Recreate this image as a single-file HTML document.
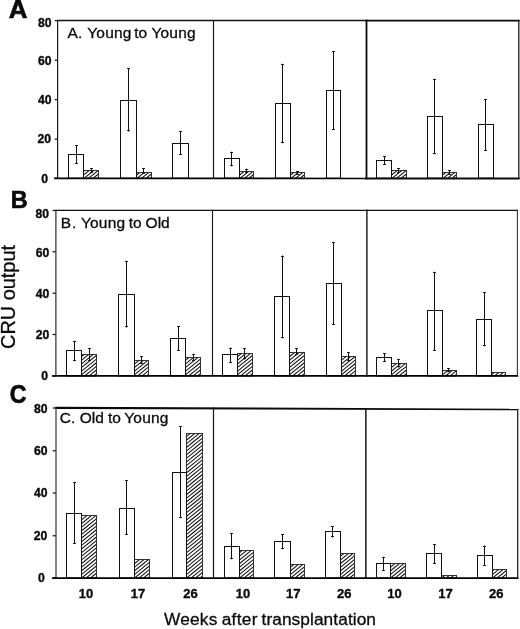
<!DOCTYPE html>
<html lang="en"><head><meta charset="utf-8"><title>CRU output</title>
<style>
html,body{margin:0;padding:0;background:#fff;}
body{width:520px;height:629px;overflow:hidden;}
svg{display:block;font-family:"Liberation Sans",Arial,Helvetica,sans-serif;fill:#0a0a0a;}
text{stroke:#0a0a0a;stroke-linejoin:round;}
.tk{font-size:12.2px;font-weight:bold;stroke-width:0.35px;}
.xl{font-size:13px;font-weight:bold;stroke-width:0.35px;}
.lt{font-size:24.6px;font-weight:bold;stroke-width:0.7px;}
.tt{font-size:15.5px;stroke-width:0.3px;}
.ax{font-size:17.3px;stroke-width:0.3px;}
.ay{font-size:19.9px;stroke-width:0.3px;}
</style></head><body>
<svg width="520" height="629" viewBox="0 0 520 629">
<rect width="520" height="629" fill="#fff"/>
<g>
<clipPath id="c1"><rect x="83.50" y="170.50" width="15.00" height="7.70"/></clipPath><rect x="83.50" y="170.50" width="15.00" height="7.70" fill="#fff"/><path clip-path="url(#c1)" d="M82.50 165.06L99.50 151.29M82.50 168.69L99.50 154.92M82.50 172.32L99.50 158.55M82.50 175.95L99.50 162.18M82.50 179.58L99.50 165.81M82.50 183.21L99.50 169.44M82.50 186.84L99.50 173.07M82.50 190.47L99.50 176.70M82.50 194.10L99.50 180.33M82.50 197.73L99.50 183.96" stroke="#111" stroke-width="1.05" fill="none"/><rect x="83.50" y="170.50" width="15.00" height="7.70" fill="none" stroke="#222" stroke-width="0.9"/>
<path d="M91.50 168.50V172.50" stroke="#111" stroke-width="1.0" fill="none"/><path d="M90.10 168.50h2.8M90.10 172.50h2.8" stroke="#111" stroke-width="1.15" fill="none"/>
<rect x="68.50" y="154.50" width="15.00" height="23.70" fill="#fff" stroke="#111" stroke-width="1.0"/>
<path d="M76.50 145.40V163.75" stroke="#111" stroke-width="1.0" fill="none"/><path d="M75.10 145.50h2.8M75.10 163.50h2.8" stroke="#111" stroke-width="1.15" fill="none"/>
<clipPath id="c2"><rect x="136.50" y="172.50" width="15.00" height="5.70"/></clipPath><rect x="136.50" y="172.50" width="15.00" height="5.70" fill="#fff"/><path clip-path="url(#c2)" d="M135.50 168.69L152.50 154.92M135.50 172.32L152.50 158.55M135.50 175.95L152.50 162.18M135.50 179.58L152.50 165.81M135.50 183.21L152.50 169.44M135.50 186.84L152.50 173.07M135.50 190.47L152.50 176.70M135.50 194.10L152.50 180.33M135.50 197.73L152.50 183.96" stroke="#111" stroke-width="1.05" fill="none"/><rect x="136.50" y="172.50" width="15.00" height="5.70" fill="none" stroke="#222" stroke-width="0.9"/>
<path d="M143.50 168.00V174.00" stroke="#111" stroke-width="1.0" fill="none"/><path d="M142.10 168.50h2.8M142.10 173.50h2.8" stroke="#111" stroke-width="1.15" fill="none"/>
<rect x="120.50" y="100.50" width="16.00" height="77.70" fill="#fff" stroke="#111" stroke-width="1.0"/>
<path d="M128.50 68.25V131.50" stroke="#111" stroke-width="1.0" fill="none"/><path d="M127.10 68.50h2.8M127.10 130.50h2.8" stroke="#111" stroke-width="1.15" fill="none"/>
<rect x="172.50" y="143.50" width="16.00" height="34.70" fill="#fff" stroke="#111" stroke-width="1.0"/>
<path d="M180.50 131.00V154.50" stroke="#111" stroke-width="1.0" fill="none"/><path d="M179.10 131.50h2.8M179.10 154.50h2.8" stroke="#111" stroke-width="1.15" fill="none"/>
<clipPath id="c3"><rect x="239.50" y="171.50" width="14.00" height="6.70"/></clipPath><rect x="239.50" y="171.50" width="14.00" height="6.70" fill="#fff"/><path clip-path="url(#c3)" d="M238.50 168.69L254.50 155.73M238.50 172.32L254.50 159.36M238.50 175.95L254.50 162.99M238.50 179.58L254.50 166.62M238.50 183.21L254.50 170.25M238.50 186.84L254.50 173.88M238.50 190.47L254.50 177.51M238.50 194.10L254.50 181.14M238.50 197.73L254.50 184.77" stroke="#111" stroke-width="1.05" fill="none"/><rect x="239.50" y="171.50" width="14.00" height="6.70" fill="none" stroke="#222" stroke-width="0.9"/>
<path d="M246.50 168.75V173.00" stroke="#111" stroke-width="1.0" fill="none"/><path d="M245.10 169.50h2.8M245.10 172.50h2.8" stroke="#111" stroke-width="1.15" fill="none"/>
<rect x="224.50" y="158.50" width="15.00" height="19.70" fill="#fff" stroke="#111" stroke-width="1.0"/>
<path d="M231.50 151.75V166.25" stroke="#111" stroke-width="1.0" fill="none"/><path d="M230.10 152.50h2.8M230.10 165.50h2.8" stroke="#111" stroke-width="1.15" fill="none"/>
<clipPath id="c4"><rect x="290.50" y="172.50" width="14.00" height="5.70"/></clipPath><rect x="290.50" y="172.50" width="14.00" height="5.70" fill="#fff"/><path clip-path="url(#c4)" d="M289.50 168.69L305.50 155.73M289.50 172.32L305.50 159.36M289.50 175.95L305.50 162.99M289.50 179.58L305.50 166.62M289.50 183.21L305.50 170.25M289.50 186.84L305.50 173.88M289.50 190.47L305.50 177.51M289.50 194.10L305.50 181.14M289.50 197.73L305.50 184.77" stroke="#111" stroke-width="1.05" fill="none"/><rect x="290.50" y="172.50" width="14.00" height="5.70" fill="none" stroke="#222" stroke-width="0.9"/>
<path d="M297.50 171.00V175.00" stroke="#111" stroke-width="1.0" fill="none"/><path d="M296.10 171.50h2.8M296.10 174.50h2.8" stroke="#111" stroke-width="1.15" fill="none"/>
<rect x="275.50" y="103.50" width="15.00" height="74.70" fill="#fff" stroke="#111" stroke-width="1.0"/>
<path d="M282.50 63.75V143.25" stroke="#111" stroke-width="1.0" fill="none"/><path d="M281.10 64.50h2.8M281.10 142.50h2.8" stroke="#111" stroke-width="1.15" fill="none"/>
<rect x="326.50" y="90.50" width="14.00" height="87.70" fill="#fff" stroke="#111" stroke-width="1.0"/>
<path d="M333.50 51.00V130.00" stroke="#111" stroke-width="1.0" fill="none"/><path d="M332.10 51.50h2.8M332.10 129.50h2.8" stroke="#111" stroke-width="1.15" fill="none"/>
<clipPath id="c5"><rect x="391.50" y="170.50" width="15.00" height="7.70"/></clipPath><rect x="391.50" y="170.50" width="15.00" height="7.70" fill="#fff"/><path clip-path="url(#c5)" d="M390.50 165.06L407.50 151.29M390.50 168.69L407.50 154.92M390.50 172.32L407.50 158.55M390.50 175.95L407.50 162.18M390.50 179.58L407.50 165.81M390.50 183.21L407.50 169.44M390.50 186.84L407.50 173.07M390.50 190.47L407.50 176.70M390.50 194.10L407.50 180.33M390.50 197.73L407.50 183.96" stroke="#111" stroke-width="1.05" fill="none"/><rect x="391.50" y="170.50" width="15.00" height="7.70" fill="none" stroke="#222" stroke-width="0.9"/>
<path d="M398.50 168.25V172.50" stroke="#111" stroke-width="1.0" fill="none"/><path d="M397.10 168.50h2.8M397.10 172.50h2.8" stroke="#111" stroke-width="1.15" fill="none"/>
<rect x="376.50" y="160.50" width="15.00" height="17.70" fill="#fff" stroke="#111" stroke-width="1.0"/>
<path d="M384.50 156.25V165.00" stroke="#111" stroke-width="1.0" fill="none"/><path d="M383.10 156.50h2.8M383.10 164.50h2.8" stroke="#111" stroke-width="1.15" fill="none"/>
<clipPath id="c6"><rect x="442.50" y="172.50" width="14.00" height="5.70"/></clipPath><rect x="442.50" y="172.50" width="14.00" height="5.70" fill="#fff"/><path clip-path="url(#c6)" d="M441.50 168.69L457.50 155.73M441.50 172.32L457.50 159.36M441.50 175.95L457.50 162.99M441.50 179.58L457.50 166.62M441.50 183.21L457.50 170.25M441.50 186.84L457.50 173.88M441.50 190.47L457.50 177.51M441.50 194.10L457.50 181.14M441.50 197.73L457.50 184.77" stroke="#111" stroke-width="1.05" fill="none"/><rect x="442.50" y="172.50" width="14.00" height="5.70" fill="none" stroke="#222" stroke-width="0.9"/>
<path d="M449.50 170.50V174.50" stroke="#111" stroke-width="1.0" fill="none"/><path d="M448.10 170.50h2.8M448.10 174.50h2.8" stroke="#111" stroke-width="1.15" fill="none"/>
<rect x="427.50" y="116.50" width="15.00" height="61.70" fill="#fff" stroke="#111" stroke-width="1.0"/>
<path d="M434.50 78.75V154.20" stroke="#111" stroke-width="1.0" fill="none"/><path d="M433.10 79.50h2.8M433.10 153.50h2.8" stroke="#111" stroke-width="1.15" fill="none"/>
<rect x="478.50" y="124.50" width="15.00" height="53.70" fill="#fff" stroke="#111" stroke-width="1.0"/>
<path d="M485.50 98.75V150.60" stroke="#111" stroke-width="1.0" fill="none"/><path d="M484.10 99.50h2.8M484.10 150.50h2.8" stroke="#111" stroke-width="1.15" fill="none"/>
<line x1="57.75" y1="20.6" x2="366.5" y2="20.6" stroke="#111" stroke-width="1.5" stroke-linecap="square"/>
<line x1="366.5" y1="20.6" x2="518.8" y2="20.6" stroke="#0a0a0a" stroke-width="1.7" stroke-linecap="square"/>
<line x1="57.6" y1="20.6" x2="57.6" y2="178.2" stroke="#1a1a1a" stroke-width="1.2" stroke-linecap="square"/>
<line x1="55" y1="178.3" x2="366.5" y2="178.5" stroke="#000" stroke-width="1.7" stroke-linecap="square"/>
<line x1="366.5" y1="178.5" x2="518.8" y2="178.5" stroke="#0a0a0a" stroke-width="1.8" stroke-linecap="square"/>
<line x1="213.5" y1="20.6" x2="213.5" y2="178.2" stroke="#1a1a1a" stroke-width="1.2" stroke-linecap="square"/>
<line x1="366.5" y1="20.6" x2="366.5" y2="178.4" stroke="#0a0a0a" stroke-width="1.8" stroke-linecap="square"/>
<line x1="518.8" y1="20.6" x2="518.8" y2="178.4" stroke="#111" stroke-width="1.25" stroke-linecap="square"/>
<line x1="54.75" y1="20.60" x2="57.75" y2="20.60" stroke="#111" stroke-width="1.25"/>
<text x="51.50" y="27.00" text-anchor="end" class="tk">80</text>
<line x1="54.75" y1="60.20" x2="57.75" y2="60.20" stroke="#111" stroke-width="1.25"/>
<text x="51.50" y="65.10" text-anchor="end" class="tk">60</text>
<line x1="54.75" y1="99.60" x2="57.75" y2="99.60" stroke="#111" stroke-width="1.25"/>
<text x="51.50" y="104.40" text-anchor="end" class="tk">40</text>
<line x1="54.75" y1="139.10" x2="57.75" y2="139.10" stroke="#111" stroke-width="1.25"/>
<text x="51.00" y="143.40" text-anchor="end" class="tk">20</text>
<line x1="54.75" y1="178.20" x2="57.75" y2="178.20" stroke="#111" stroke-width="1.25"/>
<text x="48.10" y="182.90" text-anchor="end" class="tk">0</text>
<text transform="translate(8.80,18.10) scale(1.05,1.01)" class="lt">A</text>
<text y="37.50" class="tt"><tspan x="67.40" letter-spacing="0.3">A.</tspan> <tspan x="87.20" letter-spacing="0.22">Young</tspan> <tspan x="134.30" letter-spacing="0">to</tspan> <tspan x="151.40" letter-spacing="0.22">Young</tspan></text>
</g>
<g>
<clipPath id="c7"><rect x="81.50" y="354.50" width="15.00" height="21.50"/></clipPath><rect x="81.50" y="354.50" width="15.00" height="21.50" fill="#fff"/><path clip-path="url(#c7)" d="M80.50 350.19L97.50 336.42M80.50 353.82L97.50 340.05M80.50 357.45L97.50 343.68M80.50 361.08L97.50 347.31M80.50 364.71L97.50 350.94M80.50 368.34L97.50 354.57M80.50 371.97L97.50 358.20M80.50 375.60L97.50 361.83M80.50 379.23L97.50 365.46M80.50 382.86L97.50 369.09M80.50 386.49L97.50 372.72M80.50 390.12L97.50 376.35M80.50 393.75L97.50 379.98" stroke="#111" stroke-width="1.05" fill="none"/><rect x="81.50" y="354.50" width="15.00" height="21.50" fill="none" stroke="#222" stroke-width="0.9"/>
<path d="M89.50 348.25V360.50" stroke="#111" stroke-width="1.0" fill="none"/><path d="M88.10 348.50h2.8M88.10 360.50h2.8" stroke="#111" stroke-width="1.15" fill="none"/>
<rect x="66.50" y="350.50" width="15.00" height="25.50" fill="#fff" stroke="#111" stroke-width="1.0"/>
<path d="M74.50 340.75V361.25" stroke="#111" stroke-width="1.0" fill="none"/><path d="M73.10 341.50h2.8M73.10 360.50h2.8" stroke="#111" stroke-width="1.15" fill="none"/>
<clipPath id="c8"><rect x="134.50" y="360.50" width="14.00" height="15.50"/></clipPath><rect x="134.50" y="360.50" width="14.00" height="15.50" fill="#fff"/><path clip-path="url(#c8)" d="M133.50 357.45L149.50 344.49M133.50 361.08L149.50 348.12M133.50 364.71L149.50 351.75M133.50 368.34L149.50 355.38M133.50 371.97L149.50 359.01M133.50 375.60L149.50 362.64M133.50 379.23L149.50 366.27M133.50 382.86L149.50 369.90M133.50 386.49L149.50 373.53M133.50 390.12L149.50 377.16M133.50 393.75L149.50 380.79" stroke="#111" stroke-width="1.05" fill="none"/><rect x="134.50" y="360.50" width="14.00" height="15.50" fill="none" stroke="#222" stroke-width="0.9"/>
<path d="M141.50 356.25V363.75" stroke="#111" stroke-width="1.0" fill="none"/><path d="M140.10 356.50h2.8M140.10 363.50h2.8" stroke="#111" stroke-width="1.15" fill="none"/>
<rect x="118.50" y="294.50" width="16.00" height="81.50" fill="#fff" stroke="#111" stroke-width="1.0"/>
<path d="M126.50 260.75V327.50" stroke="#111" stroke-width="1.0" fill="none"/><path d="M125.10 261.50h2.8M125.10 326.50h2.8" stroke="#111" stroke-width="1.15" fill="none"/>
<clipPath id="c9"><rect x="185.50" y="357.50" width="15.00" height="18.50"/></clipPath><rect x="185.50" y="357.50" width="15.00" height="18.50" fill="#fff"/><path clip-path="url(#c9)" d="M184.50 353.82L201.50 340.05M184.50 357.45L201.50 343.68M184.50 361.08L201.50 347.31M184.50 364.71L201.50 350.94M184.50 368.34L201.50 354.57M184.50 371.97L201.50 358.20M184.50 375.60L201.50 361.83M184.50 379.23L201.50 365.46M184.50 382.86L201.50 369.09M184.50 386.49L201.50 372.72M184.50 390.12L201.50 376.35M184.50 393.75L201.50 379.98" stroke="#111" stroke-width="1.05" fill="none"/><rect x="185.50" y="357.50" width="15.00" height="18.50" fill="none" stroke="#222" stroke-width="0.9"/>
<path d="M193.50 354.50V360.50" stroke="#111" stroke-width="1.0" fill="none"/><path d="M192.10 354.50h2.8M192.10 360.50h2.8" stroke="#111" stroke-width="1.15" fill="none"/>
<rect x="170.50" y="338.50" width="15.00" height="37.50" fill="#fff" stroke="#111" stroke-width="1.0"/>
<path d="M178.50 326.25V350.75" stroke="#111" stroke-width="1.0" fill="none"/><path d="M177.10 326.50h2.8M177.10 350.50h2.8" stroke="#111" stroke-width="1.15" fill="none"/>
<clipPath id="c10"><rect x="237.50" y="353.50" width="15.00" height="22.50"/></clipPath><rect x="237.50" y="353.50" width="15.00" height="22.50" fill="#fff"/><path clip-path="url(#c10)" d="M236.50 350.19L253.50 336.42M236.50 353.82L253.50 340.05M236.50 357.45L253.50 343.68M236.50 361.08L253.50 347.31M236.50 364.71L253.50 350.94M236.50 368.34L253.50 354.57M236.50 371.97L253.50 358.20M236.50 375.60L253.50 361.83M236.50 379.23L253.50 365.46M236.50 382.86L253.50 369.09M236.50 386.49L253.50 372.72M236.50 390.12L253.50 376.35M236.50 393.75L253.50 379.98" stroke="#111" stroke-width="1.05" fill="none"/><rect x="237.50" y="353.50" width="15.00" height="22.50" fill="none" stroke="#222" stroke-width="0.9"/>
<path d="M244.50 348.00V359.50" stroke="#111" stroke-width="1.0" fill="none"/><path d="M243.10 348.50h2.8M243.10 358.50h2.8" stroke="#111" stroke-width="1.15" fill="none"/>
<rect x="222.50" y="354.50" width="15.00" height="21.50" fill="#fff" stroke="#111" stroke-width="1.0"/>
<path d="M230.50 347.50V362.50" stroke="#111" stroke-width="1.0" fill="none"/><path d="M229.10 348.50h2.8M229.10 362.50h2.8" stroke="#111" stroke-width="1.15" fill="none"/>
<clipPath id="c11"><rect x="289.50" y="352.50" width="15.00" height="23.50"/></clipPath><rect x="289.50" y="352.50" width="15.00" height="23.50" fill="#fff"/><path clip-path="url(#c11)" d="M288.50 350.19L305.50 336.42M288.50 353.82L305.50 340.05M288.50 357.45L305.50 343.68M288.50 361.08L305.50 347.31M288.50 364.71L305.50 350.94M288.50 368.34L305.50 354.57M288.50 371.97L305.50 358.20M288.50 375.60L305.50 361.83M288.50 379.23L305.50 365.46M288.50 382.86L305.50 369.09M288.50 386.49L305.50 372.72M288.50 390.12L305.50 376.35M288.50 393.75L305.50 379.98" stroke="#111" stroke-width="1.05" fill="none"/><rect x="289.50" y="352.50" width="15.00" height="23.50" fill="none" stroke="#222" stroke-width="0.9"/>
<path d="M296.50 348.25V355.00" stroke="#111" stroke-width="1.0" fill="none"/><path d="M295.10 348.50h2.8M295.10 354.50h2.8" stroke="#111" stroke-width="1.15" fill="none"/>
<rect x="274.50" y="296.50" width="15.00" height="79.50" fill="#fff" stroke="#111" stroke-width="1.0"/>
<path d="M282.50 255.50V338.25" stroke="#111" stroke-width="1.0" fill="none"/><path d="M281.10 256.50h2.8M281.10 337.50h2.8" stroke="#111" stroke-width="1.15" fill="none"/>
<clipPath id="c12"><rect x="341.50" y="356.50" width="14.00" height="19.50"/></clipPath><rect x="341.50" y="356.50" width="14.00" height="19.50" fill="#fff"/><path clip-path="url(#c12)" d="M340.50 353.82L356.50 340.86M340.50 357.45L356.50 344.49M340.50 361.08L356.50 348.12M340.50 364.71L356.50 351.75M340.50 368.34L356.50 355.38M340.50 371.97L356.50 359.01M340.50 375.60L356.50 362.64M340.50 379.23L356.50 366.27M340.50 382.86L356.50 369.90M340.50 386.49L356.50 373.53M340.50 390.12L356.50 377.16M340.50 393.75L356.50 380.79" stroke="#111" stroke-width="1.05" fill="none"/><rect x="341.50" y="356.50" width="14.00" height="19.50" fill="none" stroke="#222" stroke-width="0.9"/>
<path d="M348.50 352.50V360.50" stroke="#111" stroke-width="1.0" fill="none"/><path d="M347.10 352.50h2.8M347.10 360.50h2.8" stroke="#111" stroke-width="1.15" fill="none"/>
<rect x="326.50" y="283.50" width="15.00" height="92.50" fill="#fff" stroke="#111" stroke-width="1.0"/>
<path d="M333.50 242.50V325.00" stroke="#111" stroke-width="1.0" fill="none"/><path d="M332.10 242.50h2.8M332.10 324.50h2.8" stroke="#111" stroke-width="1.15" fill="none"/>
<clipPath id="c13"><rect x="391.50" y="363.50" width="15.00" height="12.50"/></clipPath><rect x="391.50" y="363.50" width="15.00" height="12.50" fill="#fff"/><path clip-path="url(#c13)" d="M390.50 361.08L407.50 347.31M390.50 364.71L407.50 350.94M390.50 368.34L407.50 354.57M390.50 371.97L407.50 358.20M390.50 375.60L407.50 361.83M390.50 379.23L407.50 365.46M390.50 382.86L407.50 369.09M390.50 386.49L407.50 372.72M390.50 390.12L407.50 376.35M390.50 393.75L407.50 379.98" stroke="#111" stroke-width="1.05" fill="none"/><rect x="391.50" y="363.50" width="15.00" height="12.50" fill="none" stroke="#222" stroke-width="0.9"/>
<path d="M398.50 358.75V367.50" stroke="#111" stroke-width="1.0" fill="none"/><path d="M397.10 359.50h2.8M397.10 366.50h2.8" stroke="#111" stroke-width="1.15" fill="none"/>
<rect x="376.50" y="357.50" width="15.00" height="18.50" fill="#fff" stroke="#111" stroke-width="1.0"/>
<path d="M384.50 353.25V361.75" stroke="#111" stroke-width="1.0" fill="none"/><path d="M383.10 353.50h2.8M383.10 361.50h2.8" stroke="#111" stroke-width="1.15" fill="none"/>
<clipPath id="c14"><rect x="442.50" y="370.50" width="14.00" height="5.50"/></clipPath><rect x="442.50" y="370.50" width="14.00" height="5.50" fill="#fff"/><path clip-path="url(#c14)" d="M441.50 368.34L457.50 355.38M441.50 371.97L457.50 359.01M441.50 375.60L457.50 362.64M441.50 379.23L457.50 366.27M441.50 382.86L457.50 369.90M441.50 386.49L457.50 373.53M441.50 390.12L457.50 377.16M441.50 393.75L457.50 380.79" stroke="#111" stroke-width="1.05" fill="none"/><rect x="442.50" y="370.50" width="14.00" height="5.50" fill="none" stroke="#222" stroke-width="0.9"/>
<path d="M448.50 368.00V372.00" stroke="#111" stroke-width="1.0" fill="none"/><path d="M447.10 368.50h2.8M447.10 371.50h2.8" stroke="#111" stroke-width="1.15" fill="none"/>
<rect x="427.50" y="310.50" width="15.00" height="65.50" fill="#fff" stroke="#111" stroke-width="1.0"/>
<path d="M434.50 271.75V350.60" stroke="#111" stroke-width="1.0" fill="none"/><path d="M433.10 272.50h2.8M433.10 350.50h2.8" stroke="#111" stroke-width="1.15" fill="none"/>
<clipPath id="c15"><rect x="491.50" y="372.50" width="14.00" height="3.50"/></clipPath><rect x="491.50" y="372.50" width="14.00" height="3.50" fill="#fff"/><path clip-path="url(#c15)" d="M490.50 368.34L506.50 355.38M490.50 371.97L506.50 359.01M490.50 375.60L506.50 362.64M490.50 379.23L506.50 366.27M490.50 382.86L506.50 369.90M490.50 386.49L506.50 373.53M490.50 390.12L506.50 377.16M490.50 393.75L506.50 380.79" stroke="#111" stroke-width="1.05" fill="none"/><rect x="491.50" y="372.50" width="14.00" height="3.50" fill="none" stroke="#222" stroke-width="0.9"/>
<rect x="476.50" y="319.50" width="15.00" height="56.50" fill="#fff" stroke="#111" stroke-width="1.0"/>
<path d="M484.50 292.50V346.30" stroke="#111" stroke-width="1.0" fill="none"/><path d="M483.10 292.50h2.8M483.10 345.50h2.8" stroke="#111" stroke-width="1.15" fill="none"/>
<line x1="55.9" y1="210.3" x2="517.4" y2="210.3" stroke="#111" stroke-width="1.3" stroke-linecap="square"/>
<line x1="55.9" y1="210.3" x2="55.9" y2="376" stroke="#222" stroke-width="1.15" stroke-linecap="square"/>
<line x1="53" y1="375.9" x2="517.4" y2="375.9" stroke="#000" stroke-width="1.8" stroke-linecap="square"/>
<line x1="212.5" y1="210.3" x2="212.5" y2="376" stroke="#1a1a1a" stroke-width="1.15" stroke-linecap="square"/>
<line x1="366.9" y1="210.3" x2="366.9" y2="376" stroke="#111" stroke-width="1.4" stroke-linecap="square"/>
<line x1="517.4" y1="210.3" x2="517.4" y2="376" stroke="#333" stroke-width="1.1" stroke-linecap="square"/>
<line x1="52.6" y1="210.50" x2="55.6" y2="210.50" stroke="#111" stroke-width="1.25"/>
<text x="49.10" y="218.30" text-anchor="end" class="tk">80</text>
<line x1="52.6" y1="251.75" x2="55.6" y2="251.75" stroke="#111" stroke-width="1.25"/>
<text x="49.35" y="256.60" text-anchor="end" class="tk">60</text>
<line x1="52.6" y1="293.25" x2="55.6" y2="293.25" stroke="#111" stroke-width="1.25"/>
<text x="49.35" y="297.90" text-anchor="end" class="tk">40</text>
<line x1="52.6" y1="334.50" x2="55.6" y2="334.50" stroke="#111" stroke-width="1.25"/>
<text x="49.35" y="339.00" text-anchor="end" class="tk">20</text>
<line x1="52.6" y1="376.00" x2="55.6" y2="376.00" stroke="#111" stroke-width="1.25"/>
<text x="48.10" y="380.20" text-anchor="end" class="tk">0</text>
<text transform="translate(10.70,207.50) scale(0.953,1.0)" class="lt">B</text>
<text y="228.20" class="tt"><tspan x="60.80" letter-spacing="0.8">B.</tspan> <tspan x="80.90" letter-spacing="0.22">Young</tspan> <tspan x="128.70" letter-spacing="0">to</tspan> <tspan x="145.60" letter-spacing="0">Old</tspan></text>
</g>
<g>
<clipPath id="c16"><rect x="81.50" y="515.50" width="15.00" height="62.50"/></clipPath><rect x="81.50" y="515.50" width="15.00" height="62.50" fill="#fff"/><path clip-path="url(#c16)" d="M80.50 513.54L97.50 499.77M80.50 517.17L97.50 503.40M80.50 520.80L97.50 507.03M80.50 524.43L97.50 510.66M80.50 528.06L97.50 514.29M80.50 531.69L97.50 517.92M80.50 535.32L97.50 521.55M80.50 538.95L97.50 525.18M80.50 542.58L97.50 528.81M80.50 546.21L97.50 532.44M80.50 549.84L97.50 536.07M80.50 553.47L97.50 539.70M80.50 557.10L97.50 543.33M80.50 560.73L97.50 546.96M80.50 564.36L97.50 550.59M80.50 567.99L97.50 554.22M80.50 571.62L97.50 557.85M80.50 575.25L97.50 561.48M80.50 578.88L97.50 565.11M80.50 582.51L97.50 568.74M80.50 586.14L97.50 572.37M80.50 589.77L97.50 576.00M80.50 593.40L97.50 579.63M80.50 597.03L97.50 583.26" stroke="#111" stroke-width="1.05" fill="none"/><rect x="81.50" y="515.50" width="15.00" height="62.50" fill="none" stroke="#222" stroke-width="0.9"/>
<rect x="66.50" y="513.50" width="15.00" height="64.50" fill="#fff" stroke="#111" stroke-width="1.0"/>
<path d="M74.50 482.50V543.75" stroke="#111" stroke-width="1.0" fill="none"/><path d="M73.10 482.50h2.8M73.10 543.50h2.8" stroke="#111" stroke-width="1.15" fill="none"/>
<clipPath id="c17"><rect x="134.50" y="559.50" width="15.00" height="18.50"/></clipPath><rect x="134.50" y="559.50" width="15.00" height="18.50" fill="#fff"/><path clip-path="url(#c17)" d="M133.50 557.10L150.50 543.33M133.50 560.73L150.50 546.96M133.50 564.36L150.50 550.59M133.50 567.99L150.50 554.22M133.50 571.62L150.50 557.85M133.50 575.25L150.50 561.48M133.50 578.88L150.50 565.11M133.50 582.51L150.50 568.74M133.50 586.14L150.50 572.37M133.50 589.77L150.50 576.00M133.50 593.40L150.50 579.63M133.50 597.03L150.50 583.26" stroke="#111" stroke-width="1.05" fill="none"/><rect x="134.50" y="559.50" width="15.00" height="18.50" fill="none" stroke="#222" stroke-width="0.9"/>
<rect x="119.50" y="508.50" width="15.00" height="69.50" fill="#fff" stroke="#111" stroke-width="1.0"/>
<path d="M126.50 480.50V535.00" stroke="#111" stroke-width="1.0" fill="none"/><path d="M125.10 480.50h2.8M125.10 534.50h2.8" stroke="#111" stroke-width="1.15" fill="none"/>
<clipPath id="c18"><rect x="186.50" y="433.50" width="16.00" height="144.50"/></clipPath><rect x="186.50" y="433.50" width="16.00" height="144.50" fill="#fff"/><path clip-path="url(#c18)" d="M185.50 430.05L203.50 415.47M185.50 433.68L203.50 419.10M185.50 437.31L203.50 422.73M185.50 440.94L203.50 426.36M185.50 444.57L203.50 429.99M185.50 448.20L203.50 433.62M185.50 451.83L203.50 437.25M185.50 455.46L203.50 440.88M185.50 459.09L203.50 444.51M185.50 462.72L203.50 448.14M185.50 466.35L203.50 451.77M185.50 469.98L203.50 455.40M185.50 473.61L203.50 459.03M185.50 477.24L203.50 462.66M185.50 480.87L203.50 466.29M185.50 484.50L203.50 469.92M185.50 488.13L203.50 473.55M185.50 491.76L203.50 477.18M185.50 495.39L203.50 480.81M185.50 499.02L203.50 484.44M185.50 502.65L203.50 488.07M185.50 506.28L203.50 491.70M185.50 509.91L203.50 495.33M185.50 513.54L203.50 498.96M185.50 517.17L203.50 502.59M185.50 520.80L203.50 506.22M185.50 524.43L203.50 509.85M185.50 528.06L203.50 513.48M185.50 531.69L203.50 517.11M185.50 535.32L203.50 520.74M185.50 538.95L203.50 524.37M185.50 542.58L203.50 528.00M185.50 546.21L203.50 531.63M185.50 549.84L203.50 535.26M185.50 553.47L203.50 538.89M185.50 557.10L203.50 542.52M185.50 560.73L203.50 546.15M185.50 564.36L203.50 549.78M185.50 567.99L203.50 553.41M185.50 571.62L203.50 557.04M185.50 575.25L203.50 560.67M185.50 578.88L203.50 564.30M185.50 582.51L203.50 567.93M185.50 586.14L203.50 571.56M185.50 589.77L203.50 575.19M185.50 593.40L203.50 578.82M185.50 597.03L203.50 582.45" stroke="#111" stroke-width="1.05" fill="none"/><rect x="186.50" y="433.50" width="16.00" height="144.50" fill="none" stroke="#222" stroke-width="0.9"/>
<rect x="172.50" y="472.50" width="14.00" height="105.50" fill="#fff" stroke="#111" stroke-width="1.0"/>
<path d="M180.50 426.00V518.25" stroke="#111" stroke-width="1.0" fill="none"/><path d="M179.10 426.50h2.8M179.10 517.50h2.8" stroke="#111" stroke-width="1.15" fill="none"/>
<clipPath id="c19"><rect x="239.50" y="550.50" width="14.00" height="27.50"/></clipPath><rect x="239.50" y="550.50" width="14.00" height="27.50" fill="#fff"/><path clip-path="url(#c19)" d="M238.50 546.21L254.50 533.25M238.50 549.84L254.50 536.88M238.50 553.47L254.50 540.51M238.50 557.10L254.50 544.14M238.50 560.73L254.50 547.77M238.50 564.36L254.50 551.40M238.50 567.99L254.50 555.03M238.50 571.62L254.50 558.66M238.50 575.25L254.50 562.29M238.50 578.88L254.50 565.92M238.50 582.51L254.50 569.55M238.50 586.14L254.50 573.18M238.50 589.77L254.50 576.81M238.50 593.40L254.50 580.44M238.50 597.03L254.50 584.07" stroke="#111" stroke-width="1.05" fill="none"/><rect x="239.50" y="550.50" width="14.00" height="27.50" fill="none" stroke="#222" stroke-width="0.9"/>
<rect x="224.50" y="546.50" width="15.00" height="31.50" fill="#fff" stroke="#111" stroke-width="1.0"/>
<path d="M231.50 533.25V559.25" stroke="#111" stroke-width="1.0" fill="none"/><path d="M230.10 533.50h2.8M230.10 558.50h2.8" stroke="#111" stroke-width="1.15" fill="none"/>
<clipPath id="c20"><rect x="290.50" y="564.50" width="14.00" height="13.50"/></clipPath><rect x="290.50" y="564.50" width="14.00" height="13.50" fill="#fff"/><path clip-path="url(#c20)" d="M289.50 560.73L305.50 547.77M289.50 564.36L305.50 551.40M289.50 567.99L305.50 555.03M289.50 571.62L305.50 558.66M289.50 575.25L305.50 562.29M289.50 578.88L305.50 565.92M289.50 582.51L305.50 569.55M289.50 586.14L305.50 573.18M289.50 589.77L305.50 576.81M289.50 593.40L305.50 580.44M289.50 597.03L305.50 584.07" stroke="#111" stroke-width="1.05" fill="none"/><rect x="290.50" y="564.50" width="14.00" height="13.50" fill="none" stroke="#222" stroke-width="0.9"/>
<rect x="274.50" y="541.50" width="16.00" height="36.50" fill="#fff" stroke="#111" stroke-width="1.0"/>
<path d="M282.50 534.25V549.25" stroke="#111" stroke-width="1.0" fill="none"/><path d="M281.10 534.50h2.8M281.10 548.50h2.8" stroke="#111" stroke-width="1.15" fill="none"/>
<clipPath id="c21"><rect x="340.50" y="553.50" width="14.00" height="24.50"/></clipPath><rect x="340.50" y="553.50" width="14.00" height="24.50" fill="#fff"/><path clip-path="url(#c21)" d="M339.50 549.84L355.50 536.88M339.50 553.47L355.50 540.51M339.50 557.10L355.50 544.14M339.50 560.73L355.50 547.77M339.50 564.36L355.50 551.40M339.50 567.99L355.50 555.03M339.50 571.62L355.50 558.66M339.50 575.25L355.50 562.29M339.50 578.88L355.50 565.92M339.50 582.51L355.50 569.55M339.50 586.14L355.50 573.18M339.50 589.77L355.50 576.81M339.50 593.40L355.50 580.44M339.50 597.03L355.50 584.07" stroke="#111" stroke-width="1.05" fill="none"/><rect x="340.50" y="553.50" width="14.00" height="24.50" fill="none" stroke="#222" stroke-width="0.9"/>
<rect x="325.50" y="531.50" width="15.00" height="46.50" fill="#fff" stroke="#111" stroke-width="1.0"/>
<path d="M332.50 526.25V537.50" stroke="#111" stroke-width="1.0" fill="none"/><path d="M331.10 526.50h2.8M331.10 536.50h2.8" stroke="#111" stroke-width="1.15" fill="none"/>
<clipPath id="c22"><rect x="390.50" y="563.50" width="15.00" height="14.50"/></clipPath><rect x="390.50" y="563.50" width="15.00" height="14.50" fill="#fff"/><path clip-path="url(#c22)" d="M389.50 560.73L406.50 546.96M389.50 564.36L406.50 550.59M389.50 567.99L406.50 554.22M389.50 571.62L406.50 557.85M389.50 575.25L406.50 561.48M389.50 578.88L406.50 565.11M389.50 582.51L406.50 568.74M389.50 586.14L406.50 572.37M389.50 589.77L406.50 576.00M389.50 593.40L406.50 579.63M389.50 597.03L406.50 583.26" stroke="#111" stroke-width="1.05" fill="none"/><rect x="390.50" y="563.50" width="15.00" height="14.50" fill="none" stroke="#222" stroke-width="0.9"/>
<rect x="376.50" y="563.50" width="14.00" height="14.50" fill="#fff" stroke="#111" stroke-width="1.0"/>
<path d="M383.50 556.75V570.50" stroke="#111" stroke-width="1.0" fill="none"/><path d="M382.10 557.50h2.8M382.10 570.50h2.8" stroke="#111" stroke-width="1.15" fill="none"/>
<clipPath id="c23"><rect x="441.50" y="575.50" width="15.00" height="2.50"/></clipPath><rect x="441.50" y="575.50" width="15.00" height="2.50" fill="#fff"/><path clip-path="url(#c23)" d="M440.50 571.62L457.50 557.85M440.50 575.25L457.50 561.48M440.50 578.88L457.50 565.11M440.50 582.51L457.50 568.74M440.50 586.14L457.50 572.37M440.50 589.77L457.50 576.00M440.50 593.40L457.50 579.63M440.50 597.03L457.50 583.26" stroke="#111" stroke-width="1.05" fill="none"/><rect x="441.50" y="575.50" width="15.00" height="2.50" fill="none" stroke="#222" stroke-width="0.9"/>
<rect x="426.50" y="553.50" width="15.00" height="24.50" fill="#fff" stroke="#111" stroke-width="1.0"/>
<path d="M434.50 544.25V563.80" stroke="#111" stroke-width="1.0" fill="none"/><path d="M433.10 544.50h2.8M433.10 563.50h2.8" stroke="#111" stroke-width="1.15" fill="none"/>
<clipPath id="c24"><rect x="492.50" y="569.50" width="14.00" height="8.50"/></clipPath><rect x="492.50" y="569.50" width="14.00" height="8.50" fill="#fff"/><path clip-path="url(#c24)" d="M491.50 564.36L507.50 551.40M491.50 567.99L507.50 555.03M491.50 571.62L507.50 558.66M491.50 575.25L507.50 562.29M491.50 578.88L507.50 565.92M491.50 582.51L507.50 569.55M491.50 586.14L507.50 573.18M491.50 589.77L507.50 576.81M491.50 593.40L507.50 580.44M491.50 597.03L507.50 584.07" stroke="#111" stroke-width="1.05" fill="none"/><rect x="492.50" y="569.50" width="14.00" height="8.50" fill="none" stroke="#222" stroke-width="0.9"/>
<rect x="477.50" y="555.50" width="15.00" height="22.50" fill="#fff" stroke="#111" stroke-width="1.0"/>
<path d="M484.50 545.50V566.00" stroke="#111" stroke-width="1.0" fill="none"/><path d="M483.10 546.50h2.8M483.10 565.50h2.8" stroke="#111" stroke-width="1.15" fill="none"/>
<polygon points="55.4,406.65 518.35,408.85 518.35,410.35 55.4,408.95" fill="#0a0a0a"/>
<line x1="56.0" y1="407.8" x2="56.0" y2="578" stroke="#333" stroke-width="1.2" stroke-linecap="square"/>
<line x1="53" y1="578.1" x2="517.6" y2="578.1" stroke="#000" stroke-width="1.8" stroke-linecap="square"/>
<line x1="213.5" y1="408" x2="213.5" y2="578" stroke="#1a1a1a" stroke-width="1.25" stroke-linecap="square"/>
<line x1="365.85" y1="408.8" x2="365.85" y2="578" stroke="#111" stroke-width="1.5" stroke-linecap="square"/>
<line x1="517.7" y1="409.6" x2="517.7" y2="578" stroke="#222" stroke-width="1.3" stroke-linecap="square"/>
<line x1="52.75" y1="408.00" x2="55.75" y2="408.00" stroke="#111" stroke-width="1.25"/>
<text x="47.60" y="413.40" text-anchor="end" class="tk">80</text>
<line x1="52.75" y1="450.75" x2="55.75" y2="450.75" stroke="#111" stroke-width="1.25"/>
<text x="47.60" y="454.90" text-anchor="end" class="tk">60</text>
<line x1="52.75" y1="493.00" x2="55.75" y2="493.00" stroke="#111" stroke-width="1.25"/>
<text x="47.60" y="497.20" text-anchor="end" class="tk">40</text>
<line x1="52.75" y1="535.75" x2="55.75" y2="535.75" stroke="#111" stroke-width="1.25"/>
<text x="47.35" y="539.60" text-anchor="end" class="tk">20</text>
<line x1="52.75" y1="578.00" x2="55.75" y2="578.00" stroke="#111" stroke-width="1.25"/>
<text x="44.85" y="581.90" text-anchor="end" class="tk">0</text>
<text transform="translate(9.85,402.80) scale(0.94,1.065)" class="lt">C</text>
<text y="422.90" class="tt"><tspan x="59.70" letter-spacing="0">C.</tspan> <tspan x="79.80" letter-spacing="0">Old</tspan> <tspan x="108.00" letter-spacing="0">to</tspan> <tspan x="124.20" letter-spacing="0.22">Young</tspan></text>
</g>
<text x="85.90" y="597.5" text-anchor="middle" class="xl">10</text>
<text x="138.00" y="597.5" text-anchor="middle" class="xl">17</text>
<text x="190.60" y="597.5" text-anchor="middle" class="xl">26</text>
<text x="243.10" y="597.5" text-anchor="middle" class="xl">10</text>
<text x="293.25" y="597.5" text-anchor="middle" class="xl">17</text>
<text x="344.25" y="597.5" text-anchor="middle" class="xl">26</text>
<text x="394.60" y="597.5" text-anchor="middle" class="xl">10</text>
<text x="445.50" y="597.5" text-anchor="middle" class="xl">17</text>
<text x="496.25" y="597.5" text-anchor="middle" class="xl">26</text>
<text y="624.9" class="ax"><tspan x="164.0" letter-spacing="0.2">Weeks</tspan> <tspan x="221.7" letter-spacing="0.3">after</tspan> <tspan x="261.5" letter-spacing="0.08">transplantation</tspan></text>
<text transform="translate(15.2,297.0) rotate(-90)" text-anchor="middle" class="ay">CRU output</text>
</svg>
</body></html>
